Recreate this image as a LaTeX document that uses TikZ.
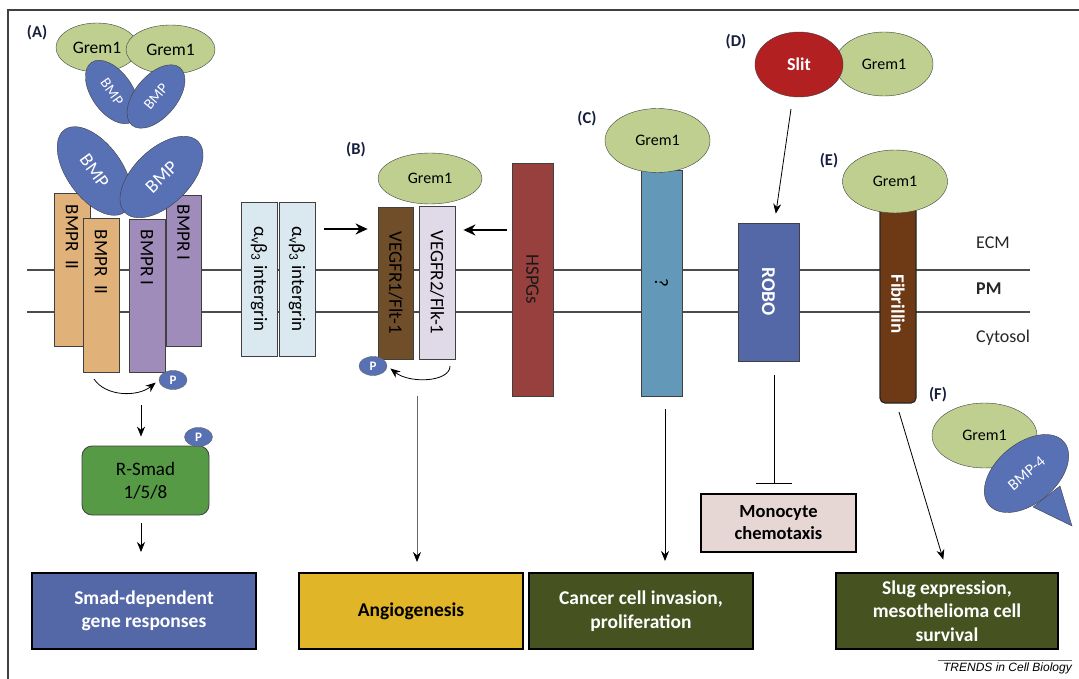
\documentclass[tikz,border=0pt]{standalone}
\usepackage{fontspec}
\setmainfont{Carlito}
\newfontfamily\trendsfont{Liberation Sans}
\usetikzlibrary{shapes.geometric,arrows.meta}

\definecolor{gremgreen}{RGB}{190,207,143}
\definecolor{bmpblue}{RGB}{88,112,180}
\definecolor{bmprorange}{RGB}{224,178,122}
\definecolor{bmprpurple}{RGB}{160,140,186}
\definecolor{intblue}{RGB}{218,232,240}
\definecolor{fltbrown}{RGB}{112,78,42}
\definecolor{flklilac}{RGB}{224,218,232}
\definecolor{hspgred}{RGB}{152,64,62}
\definecolor{unknownblue}{RGB}{100,152,184}
\definecolor{roboblue}{RGB}{84,104,168}
\definecolor{slitred}{RGB}{178,32,34}
\definecolor{fibbrown}{RGB}{110,58,22}
\definecolor{smadgreen}{RGB}{86,154,70}
\definecolor{angiogold}{RGB}{224,181,40}
\definecolor{darkolive}{RGB}{70,82,32}
\definecolor{monopink}{RGB}{230,214,212}
\definecolor{panelnavy}{RGB}{22,30,62}

\tikzstyle{grem} = [ellipse, draw=black!75, fill=gremgreen, inner sep=0pt, font=\fontsize{16}{19}\selectfont]
\tikzstyle{bmp} = [ellipse, draw=black!75, fill=bmpblue, text=white, inner sep=0pt]
\tikzstyle{rec} = [draw=black!75, line width=0.8pt, inner sep=0pt]
\tikzstyle{rectext} = [rotate=-90, inner sep=0pt, font=\fontsize{19}{22}\selectfont]
\tikzstyle{outcome} = [draw=black, line width=2pt, minimum width=224pt, minimum height=76pt, inner sep=0pt, align=center, font=\bfseries\fontsize{19.5}{23.5}\selectfont]
\tikzstyle{phos} = [ellipse, draw=black!60, fill=bmpblue, text=white, minimum width=28pt, minimum height=19pt, inner sep=0pt, font=\bfseries\fontsize{13}{13}\selectfont]
\tikzstyle{panel} = [font=\bfseries\fontsize{16.5}{19}\selectfont, text=panelnavy]
\tikzstyle{region} = [anchor=west, inner sep=0pt, font=\fontsize{18}{21}\selectfont, text=black!85]
\tikzstyle{membrane} = [draw=black!70, line width=1.2pt]
\tikzstyle{arr} = [-{Stealth[length=10pt,width=8pt,black]}, line width=0.8pt]
\tikzstyle{bigarr} = [-{Stealth[length=12pt,width=11pt]}, line width=2pt]

\begin{document}
\begin{tikzpicture}[x=1pt,y=-1pt]
  \useasboundingbox (0,0) rectangle (1079,679);
  \draw[black!75, line width=1.2pt] (8,679) -- (8,10) -- (1079,10);

  \draw[membrane] (27,270) -- (1030,270);
  \draw[membrane] (27,312) -- (1030,312);
  \node[region] (ecm) at (976,243) {ECM};
  \node[region, font=\bfseries\fontsize{18}{21}\selectfont] (pm) at (976,289) {PM};
  \node[region] (cytosol) at (976,338) {Cytosol};

  \node[panel] (la) at (37,33) {(A)};
  \node[grem, minimum width=82pt, minimum height=49pt, font=\fontsize{17.5}{20}\selectfont] (grema1) at (97,47.5) {Grem1};
  \node[grem, minimum width=89pt, minimum height=49pt, font=\fontsize{17.5}{20}\selectfont] (grema2) at (170.5,49.5) {Grem1};
  \node[bmp, minimum width=72pt, minimum height=41pt, rotate=-55, font=\fontsize{15}{18}\selectfont] (bmpa1) at (112,92) {BMP};
  \node[bmp, minimum width=75pt, minimum height=42pt, rotate=50, font=\fontsize{15}{18}\selectfont] (bmpa2) at (156,96.5) {BMP};

  \node[rec, fill=bmprorange, minimum width=36pt, minimum height=153pt] (bmpr2a) at (72,269.5) {};
  \node[rectext, anchor=west] at ([yshift=-12pt]bmpr2a.north) {BMPR~~II};
  \node[rec, fill=bmprorange, minimum width=36pt, minimum height=154pt] (bmpr2b) at (101,295) {};
  \node[rectext, anchor=west] at ([yshift=-12pt]bmpr2b.north) {BMPR~~II};
  \node[rec, fill=bmprpurple, minimum width=35pt, minimum height=151pt] (bmpr1b) at (183.5,270.5) {};
  \node[rectext, anchor=west] at ([yshift=-10pt]bmpr1b.north) {BMPR I};
  \node[rec, fill=bmprpurple, minimum width=36pt, minimum height=153pt] (bmpr1a) at (147,295.5) {};
  \node[rectext, anchor=west] at ([yshift=-11pt]bmpr1a.north) {BMPR I};

  \node[bmp, minimum width=102pt, minimum height=55pt, rotate=-54, font=\fontsize{19}{22}\selectfont] (bmpa3) at (94.5,171) {BMP};
  \node[bmp, minimum width=102pt, minimum height=56pt, rotate=44, font=\fontsize{19}{22}\selectfont] (bmpa4) at (161.5,177) {BMP};

  \node[phos] (pa) at (173,380) {P};
  \coordinate (pastart) at (94,379);
  \draw[arr, shorten >=4pt] (pastart) .. controls (106,397) and (138,397) .. (pa.west);

  \node[rec, fill=smadgreen, rounded corners=10pt, minimum width=127pt, minimum height=69pt, align=center, font=\fontsize{19}{23}\selectfont] (rsmad) at (145.5,480.5) {R-Smad\\1/5/8};
  \node[phos] (psmad) at (198.5,437) {P};
  \coordinate (smadin) at (141,405);
  \draw[arr, shorten >=9pt] (smadin) -- (rsmad.north -| smadin);

  \node[rec, fill=intblue, minimum width=36pt, minimum height=154pt] (int1) at (259,279) {};
  \node[rectext] at (int1) {α\textsubscript{v}β\textsubscript{3} intergrin};
  \node[rec, fill=intblue, minimum width=36pt, minimum height=154pt] (int2) at (297,279) {};
  \node[rectext] at (int2) {α\textsubscript{v}β\textsubscript{3} intergrin};

  \node[panel] (lb) at (356,150) {(B)};
  \node[grem, minimum width=104pt, minimum height=51pt] (gremb) at (430,178.5) {Grem1};
  \node[rec, fill=fltbrown, minimum width=35pt, minimum height=152pt] (vegfr1) at (395.5,283) {};
  \node[rectext] at (vegfr1) {VEGFR1/Flt-1};
  \node[rec, fill=flklilac, minimum width=36pt, minimum height=153pt] (vegfr2) at (437,282.5) {};
  \node[rectext] at (vegfr2) {VEGFR2/Flk-1};
  \node[rec, fill=hspgred, minimum width=41pt, minimum height=233pt] (hspg) at (532.5,279.5) {};
  \node[rectext, text=black!90] at (hspg) {HSPGs};
  \draw[bigarr] ([xshift=9pt,yshift=50pt]int2.east) -- ([xshift=-10pt,yshift=54pt]vegfr1.west);
  \draw[bigarr] ([xshift=-5pt,yshift=49.5pt]hspg.west) -- ([xshift=8pt,yshift=52.5pt]vegfr2.east);
  \node[phos] (pb) at (373,366) {P};
  \coordinate (pbstart) at (450,366);
  \draw[arr, shorten >=4pt] (pbstart) .. controls (450,382) and (410,384) .. (pb.east);

  \node[panel] (lc) at (587,119) {(C)};
  \node[rec, fill=unknownblue, minimum width=41pt, minimum height=226pt] (unknown) at (661.5,283) {};
  \node[rectext] at (unknown) {?};
  \node[grem, minimum width=105pt, minimum height=64pt] (gremc) at (657.5,140.5) {Grem1};

  \node[panel] (ld) at (736,42) {(D)};
  \node[grem, minimum width=98pt, minimum height=64pt] (gremd) at (884,64) {Grem1};
  \node[ellipse, draw=black!75, fill=slitred, text=white, minimum width=88pt, minimum height=65pt, inner sep=0pt, font=\bfseries\fontsize{18}{21}\selectfont] (slit) at (799,64.5) {Slit};
  \node[rec, fill=roboblue, minimum width=61pt, minimum height=138pt] (robo) at (768.5,292) {};
  \node[rectext, text=white, font=\bfseries\fontsize{19.5}{22}\selectfont] at (robo) {ROBO};
  \coordinate (slitstart) at (791,109);
  \draw[arr, shorten >=9pt] (slitstart) -- ([xshift=6pt]robo.north);

  \node[panel] (le) at (829,161) {(E)};
  \node[rec, fill=fibbrown, rounded corners=5pt, line width=1.2pt, draw=black!85, minimum width=36pt, minimum height=198pt] (fib) at (898,304) {};
  \node[rectext, text=white, font=\bfseries\fontsize{19}{22}\selectfont] at (fib) {Fibrillin};
  \node[grem, minimum width=105pt, minimum height=63pt] (greme) at (895,181.5) {Grem1};

  \node[panel] (lf) at (938,395) {(F)};
  \node[grem, minimum width=105pt, minimum height=65pt] (gremf) at (984.5,435.5) {Grem1};
  \filldraw[fill=bmpblue, draw=black!75] (1033,507) -- (1072,526) -- (1060,486) -- cycle;
  \node[bmp, minimum width=98pt, minimum height=60pt, rotate=40, font=\fontsize{16}{19}\selectfont] (bmp4) at (1026.5,473.5) {BMP-4};

  \node[outcome, fill=roboblue, text=white] (smadbox) at (144,611) {Smad-dependent\\gene responses};
  \node[outcome, fill=angiogold] (angio) at (411,611) {Angiogenesis};
  \node[outcome, fill=darkolive, text=white] (cancer) at (641,611) {Cancer cell invasion,\\proliferation};
  \node[outcome, fill=darkolive, text=white, minimum width=222pt] (slug) at (947,611) {Slug expression,\\mesothelioma cell\\survival};
  \node[outcome, fill=monopink, minimum width=155pt, minimum height=58pt, font=\bfseries\fontsize{18.5}{22}\selectfont] (mono) at (778.5,523) {Monocyte\\chemotaxis};

  \coordinate (smadout) at (141,523);
  \draw[arr, shorten >=20pt] (smadout) -- (smadbox.north -| smadout);
  \coordinate (angiostart) at (417,396);
  \draw[arr, draw=black!60, shorten >=10pt] (angiostart) -- (angio.north -| angiostart);
  \coordinate (cancerstart) at (665,409);
  \draw[arr, shorten >=11pt] (cancerstart) -- (cancer.north -| cancerstart);
  \coordinate (robostart) at (774,375);
  \draw[-{Bar[width=36pt]}, line width=0.8pt, shorten >=9pt] (robostart) -- (mono.north -| robostart);
  \coordinate (fibstart) at (899,412);
  \draw[arr, shorten >=13pt] (fibstart) -- (slug.north);

  \draw[black!60, line width=0.8pt] (938,660) -- (1072,660);
  \node[anchor=north east, inner sep=0pt, font=\trendsfont\itshape\fontsize{12}{14}\selectfont] (trends) at (1072,662.5) {TRENDS in Cell Biology};
\end{tikzpicture}
\end{document}
